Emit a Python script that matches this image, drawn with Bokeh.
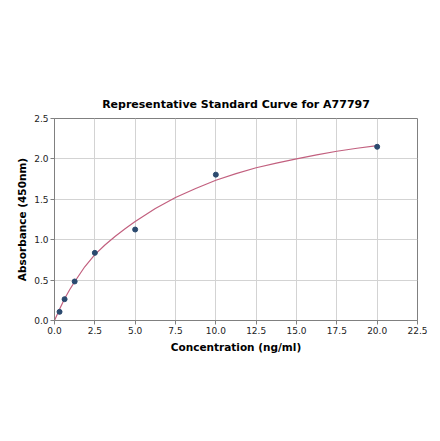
from bokeh.embed import file_html
from bokeh.models import Range1d, FixedTicker, PrintfTickFormatter
from bokeh.plotting import figure
from bokeh.resources import INLINE

# standard points (concentration ng/ml, absorbance 450nm)
conc = [0.3125, 0.625, 1.25, 2.5, 5.0, 10.0, 20.0]
absorb = [0.107, 0.264, 0.483, 0.837, 1.126, 1.805, 2.150]

# fitted curve
curve_x = [0.0, 0.3125, 0.625, 0.9375, 1.25, 1.875, 2.5, 3.125, 3.75, 4.375, 5.0,
           6.25, 7.5, 8.75, 10.0, 11.25, 12.5, 13.75, 15.0, 16.25, 17.5, 18.75, 20.0]
curve_y = [0.0, 0.14, 0.27, 0.38, 0.48, 0.665, 0.815, 0.935, 1.04, 1.135, 1.225,
           1.385, 1.522, 1.634, 1.736, 1.817, 1.89, 1.948, 2.0, 2.05, 2.095, 2.132, 2.165]

x_ticks = [0.0, 2.5, 5.0, 7.5, 10.0, 12.5, 15.0, 17.5, 20.0, 22.5]
y_ticks = [0.0, 0.5, 1.0, 1.5, 2.0, 2.5]

FONT = "DejaVu Sans"

p = figure(width=440, height=441, output_backend="svg", toolbar_location=None,
           title="Representative Standard Curve for A77797",
           x_range=Range1d(0, 22.5), y_range=Range1d(0, 2.5),
           min_border_left=54, min_border_right=23,
           min_border_top=118, min_border_bottom=121)

p.title.align = "center"
p.title.text_font = FONT
p.title.text_font_size = "11px"
p.title.text_font_style = "bold"
p.title.text_color = "#000000"
p.title.standoff = 15

p.outline_line_color = "#808080"
p.outline_line_width = 1

for ax in (p.xaxis[0], p.yaxis[0]):
    ax.axis_line_color = "#808080"
    ax.major_tick_line_color = "#808080"
    ax.major_tick_out = 4
    ax.major_tick_in = 0
    ax.minor_tick_line_color = None
    ax.major_label_standoff = 2
    ax.major_label_text_font = FONT
    ax.major_label_text_font_size = "9px"
    ax.major_label_text_color = "#222222"
    ax.axis_label_text_font = FONT
    ax.axis_label_text_font_size = "10.5px"
    ax.axis_label_text_font_style = "bold"
    ax.axis_label_text_color = "#000000"
    ax.formatter = PrintfTickFormatter(format="%.1f")

p.xaxis.ticker = FixedTicker(ticks=x_ticks)
p.yaxis.ticker = FixedTicker(ticks=y_ticks)
p.xaxis.axis_label = "Concentration (ng/ml)"
p.yaxis.axis_label = "Absorbance (450nm)"
p.xaxis.axis_label_standoff = 4
p.yaxis.axis_label_standoff = 3

p.grid.grid_line_color = "#d3d3d3"
p.grid.grid_line_width = 1

p.line(curve_x, curve_y, line_color="#c2607f", line_width=1.2)
p.scatter(conc, absorb, size=5, fill_color="#2b4a6f", line_color="#2b4a6f")

open("out.html", "w").write(file_html(p, INLINE))
